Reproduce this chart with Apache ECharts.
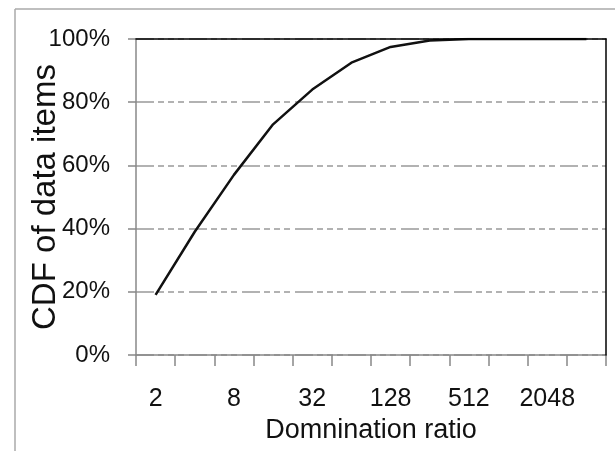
<!DOCTYPE html>
<html><head><meta charset="utf-8">
<script src="https://cdn.jsdelivr.net/npm/echarts@6/dist/echarts.min.js"></script>
<style>html,body{margin:0;padding:0;background:#fff}#c{width:615px;height:451px}</style>
</head><body><div id="c"></div>
<script>
const categories = ['2','4','8','16','32','64','128','256','512','1024','2048','4096'];
const cdfValues = [19, 39, 57, 73, 84, 92.5, 97.5, 99.5, 100, 100, 100, 100];
const yTicks = [0, 20, 40, 60, 80, 100];
const xTitle = 'Domnination ratio';
const yTitle = 'CDF of data items';

const chart = echarts.init(document.getElementById('c'), null, {renderer: 'canvas'});
const numFont = '"Liberation Sans Narrow","Liberation Sans",Arial,sans-serif';
const txtFont = '"Liberation Sans",Arial,sans-serif';
chart.setOption({
  animation: false,
  backgroundColor: '#fff',
  graphic: [
    {type: 'line', shape: {x1: 15, y1: 9, x2: 615, y2: 9}, style: {stroke: '#aaa', lineWidth: 1.5}},
    {type: 'line', shape: {x1: 15, y1: 9, x2: 15, y2: 451}, style: {stroke: '#aaa', lineWidth: 1.5}}
  ],
  grid: {left: 136, right: 9, top: 39, bottom: 96, containLabel: false, outerBoundsMode: 'none'},
  xAxis: [{
    type: 'category', data: categories, boundaryGap: true,
    name: xTitle, nameLocation: 'middle', nameGap: 62, nameMoveOverlap: false,
    nameTextStyle: {fontFamily: txtFont, fontSize: 27, color: '#111'},
    axisLine: {onZero: false, lineStyle: {color: '#888', width: 1.5}},
    axisTick: {show: true, interval: 0, length: 11, lineStyle: {color: '#888', width: 1.5}},
    axisLabel: {interval: 1, margin: 32, fontFamily: numFont, fontSize: 25, color: '#111'}
  }, {
    type: 'category', data: categories, position: 'top', boundaryGap: true, z: 10,
    axisLine: {show: true, onZero: false, lineStyle: {color: '#000', width: 1.5}},
    axisTick: {show: false}, axisLabel: {show: false}, splitLine: {show: false}
  }],
  yAxis: [{
    type: 'value', min: yTicks[0], max: yTicks[yTicks.length - 1], interval: 20,
    name: yTitle, nameLocation: 'middle', nameGap: 74, nameRotate: 90, nameMoveOverlap: false,
    nameTextStyle: {fontFamily: txtFont, fontSize: 33, color: '#111'},
    axisLine: {show: true, onZero: false, lineStyle: {color: '#888', width: 1.5}},
    axisTick: {show: true, length: 8, lineStyle: {color: '#888', width: 1.5}},
    axisLabel: {margin: 26, formatter: '{value}%', fontFamily: numFont, fontSize: 24, color: '#111'},
    splitLine: {show: true, lineStyle: {color: '#999', width: 1.5, type: [18, 4, 6, 4, 6, 4, 6, 5]}}
  }, {
    type: 'value', position: 'right', min: yTicks[0], max: yTicks[yTicks.length - 1], interval: 20, z: 10,
    axisLine: {show: true, onZero: false, lineStyle: {color: '#000', width: 1.5}},
    axisTick: {show: false}, axisLabel: {show: false}, splitLine: {show: false}
  }],
  series: [{
    type: 'line', data: cdfValues, showSymbol: false, symbol: 'none',
    lineStyle: {color: '#111', width: 2.5}, z: 5
  }]
});
</script></body></html>
